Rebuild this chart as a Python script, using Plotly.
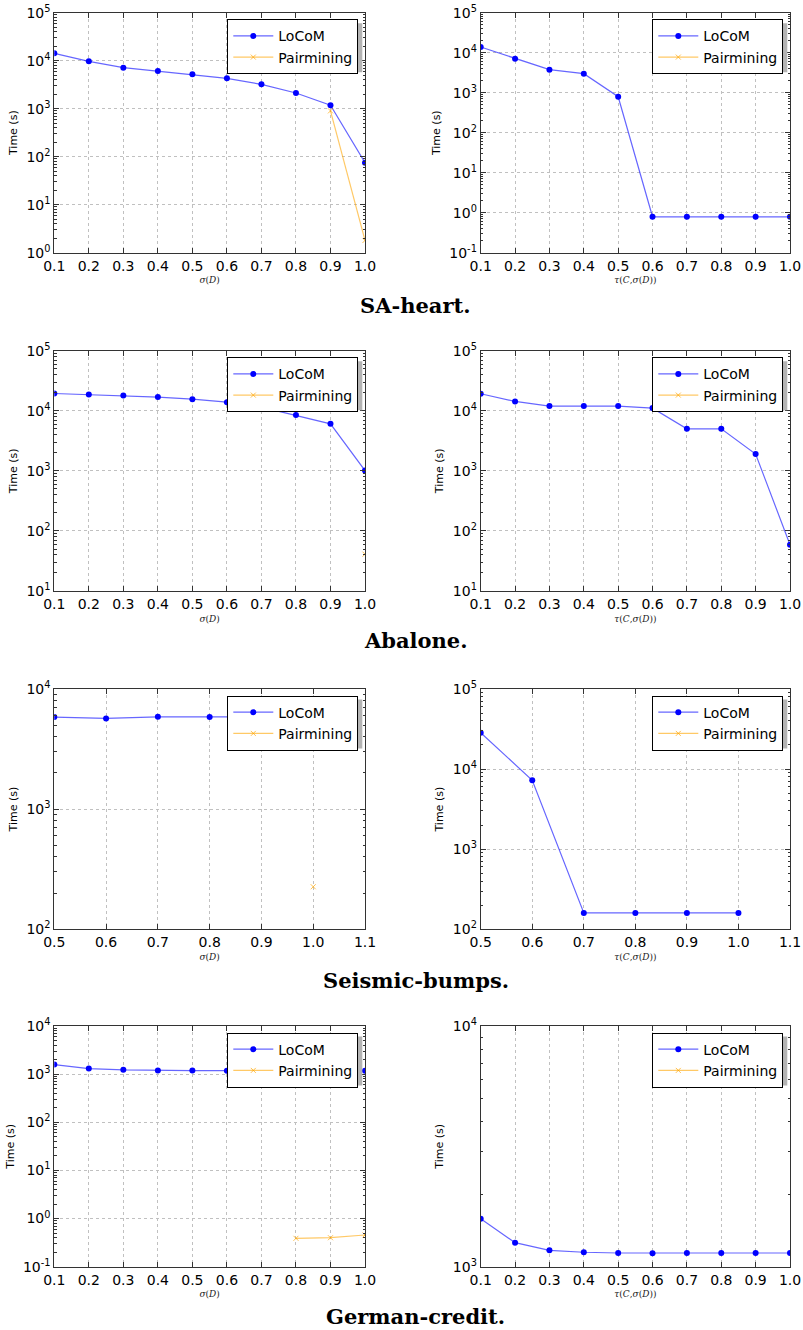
import plotly.graph_objects as go

# ---------------- data ----------------
x_full = [0.1, 0.2, 0.3, 0.4, 0.5, 0.6, 0.7, 0.8, 0.9, 1.0]
x_seis = [0.5, 0.6, 0.7, 0.8, 0.9, 1.0]

# SA-heart
sa_sigma_locom = [14260, 9700, 7150, 6100, 5200, 4300, 3220, 2120, 1180, 75]
sa_sigma_pair_x = [0.9, 1.0]
sa_sigma_pair = [900, 1.8]
sa_tau_locom = [13900, 7070, 3760, 2990, 794, 0.79, 0.79, 0.79, 0.79, 0.79]

# Abalone
ab_sigma_locom = [19400, 18700, 18000, 16900, 15600, 13900, 11500, 8470, 6070, 1010]
ab_sigma_pair_x = [1.0]
ab_sigma_pair = [41]
ab_tau_locom = [19200, 14300, 11970, 11970, 11970, 11070, 5010, 5010, 1900, 59]

# Seismic-bumps
se_sigma_locom = [5840, 5690, 5870, 5840, 5840, 5840]
se_sigma_pair_x = [1.0]
se_sigma_pair = [226]
se_tau_locom = [28400, 7260, 160, 160, 160, 160]

# German-credit
ge_sigma_locom = [1580, 1306, 1228, 1190, 1185, 1180, 1175, 1175, 1172, 1172]
ge_sigma_pair_x = [0.8, 0.9, 1.0]
ge_sigma_pair = [0.389, 0.40, 0.456]
ge_tau_locom = [1581, 1258, 1170, 1148, 1140, 1136, 1140, 1140, 1140, 1140]

captions = ["SA-heart.", "Abalone.", "Seismic-bumps.", "German-credit."]
x_titles = ["<i>σ</i>(<i>D</i>)", "<i>τ</i>(<i>C</i>,<i>σ</i>(<i>D</i>))"]
y_title = "Time (s)"
series_names = ["LoCoM", "Pairmining"]

# log10 ranges of y axes (exponents, also used as tick labels)
y_exps = [
    [0, 1, 2, 3, 4, 5], [-1, 0, 1, 2, 3, 4, 5],
    [1, 2, 3, 4, 5], [1, 2, 3, 4, 5],
    [2, 3, 4], [2, 3, 4, 5],
    [-1, 0, 1, 2, 3, 4], [3, 4],
]
x_ticks_full = [0.1, 0.2, 0.3, 0.4, 0.5, 0.6, 0.7, 0.8, 0.9, 1.0]
x_ticks_seis = [0.5, 0.6, 0.7, 0.8, 0.9, 1.0, 1.1]

panels = [
    (x_full, sa_sigma_locom, sa_sigma_pair_x, sa_sigma_pair, x_ticks_full),
    (x_full, sa_tau_locom, [], [], x_ticks_full),
    (x_full, ab_sigma_locom, ab_sigma_pair_x, ab_sigma_pair, x_ticks_full),
    (x_full, ab_tau_locom, [], [], x_ticks_full),
    (x_seis, se_sigma_locom, se_sigma_pair_x, se_sigma_pair, x_ticks_seis),
    (x_seis, se_tau_locom, [], [], x_ticks_seis),
    (x_full, ge_sigma_locom, ge_sigma_pair_x, ge_sigma_pair, x_ticks_full),
    (x_full, ge_tau_locom, [], [], x_ticks_full),
]

# ---------------- layout helpers ----------------
W, H = 803, 1330
col_px = [(54.3, 365.0), (480.7, 790.0)]
row_px = [(12.7, 252.7), (350.7, 591.0), (689.0, 929.3), (1026.0, 1266.7)]
caption_y_px = [305, 640, 980, 1316]
caption_x_px = 416


def px_x(p):
    return p / W


def px_y(p):
    return 1 - p / H


fig = go.Figure()
layout = dict(
    width=W, height=H,
    margin=dict(l=0, r=0, t=0, b=0, autoexpand=False),
    paper_bgcolor="white", plot_bgcolor="white",
    showlegend=True,
    font=dict(family="DejaVu Sans", color="black"),
)
shapes = []
annotations = []

LEG_W, LEG_H = 131, 49
SH = 4

for i, (xs, loc, px_, pv, xt) in enumerate(panels):
    r, c = divmod(i, 2)
    k = i + 1
    xa = "x" if k == 1 else f"x{k}"
    ya = "y" if k == 1 else f"y{k}"
    xkey = "xaxis" if k == 1 else f"xaxis{k}"
    ykey = "yaxis" if k == 1 else f"yaxis{k}"
    lkey = "legend" if k == 1 else f"legend{k}"

    fig.add_trace(go.Scatter(
        x=xs, y=loc, name=series_names[0], mode="lines+markers",
        line=dict(color="rgba(0,0,255,0.6)", width=1.2),
        marker=dict(color="#0000ff", size=6),
        xaxis=xa, yaxis=ya, legend=lkey,
    ))
    fig.add_trace(go.Scatter(
        x=px_ if px_ else [None], y=pv if pv else [None],
        name=series_names[1], mode="lines+markers",
        line=dict(color="rgba(255,165,0,0.6)", width=1.2),
        marker=dict(color="rgba(255,165,0,0.6)", size=5, symbol="x-thin",
                    line=dict(color="rgba(255,165,0,0.7)", width=1)),
        xaxis=xa, yaxis=ya, legend=lkey,
    ))

    x0, x1 = col_px[c]
    y0, y1 = row_px[r]
    exps = y_exps[i]
    axis_common = dict(
        showline=True, linecolor="#333", linewidth=1, mirror="allticks",
        ticks="inside", ticklen=5, tickcolor="#333",
        showgrid=True, gridcolor="#c0c0c0", griddash="dot", gridwidth=1,
        zeroline=False, automargin=False,
        tickfont=dict(family="DejaVu Sans", size=14, color="black"),
    )
    layout[xkey] = dict(
        axis_common, domain=[px_x(x0), px_x(x1)], anchor=ya,
        range=[xt[0], xt[-1]], tickvals=xt,
        ticktext=[f"{v:.1f}" for v in xt],
        title=dict(text=x_titles[c], standoff=4,
                   font=dict(family="DejaVu Serif", size=9, color="#222")),
    )
    minor_vals = [m * 10 ** e for e in exps[:-1] for m in range(2, 10)]
    layout[ykey] = dict(
        axis_common, type="log", domain=[px_y(y1), px_y(y0)], anchor=xa,
        range=[exps[0], exps[-1]],
        tickvals=[10 ** e for e in exps],
        ticktext=[f"10<sup>{e}</sup>" for e in exps],
        minor=dict(tickmode="array", tickvals=minor_vals, ticks="inside",
                   ticklen=2.5, tickcolor="#333", showgrid=False),
        title=dict(text=y_title, standoff=6,
                   font=dict(family="DejaVu Sans", size=11, color="black")),
    )
    # legend
    lx1 = x1 - 6.7
    ly0 = y0 + 6.6
    layout[lkey] = dict(
        x=px_x(lx1), y=px_y(ly0), xanchor="right", yanchor="top",
        xref="paper", yref="paper",
        bgcolor="white", bordercolor="black", borderwidth=1,
        font=dict(family="DejaVu Sans", size=14, color="black"),
        itemwidth=40, tracegroupgap=0,
    )
    # legend shadow
    shapes.append(dict(
        type="rect", xref="paper", yref="paper",
        x0=px_x(lx1 - LEG_W + SH), x1=px_x(lx1 + SH),
        y0=px_y(ly0 + LEG_H + SH), y1=px_y(ly0 + SH),
        fillcolor="#b4b4b4", line=dict(width=0), layer="above",
    ))

for r, cap in enumerate(captions):
    annotations.append(dict(
        text=f"<b>{cap}</b>", xref="paper", yref="paper",
        x=px_x(caption_x_px), y=px_y(caption_y_px[r]),
        xanchor="center", yanchor="middle", showarrow=False,
        font=dict(family="DejaVu Serif", size=21, color="black"),
    ))

layout["shapes"] = shapes
layout["annotations"] = annotations
fig.update_layout(**layout)
fig.write_html(
    "out.html",
    config={"displayModeBar": False},
    post_script="document.body.style.margin='0px';document.body.style.overflow='hidden';",
)
